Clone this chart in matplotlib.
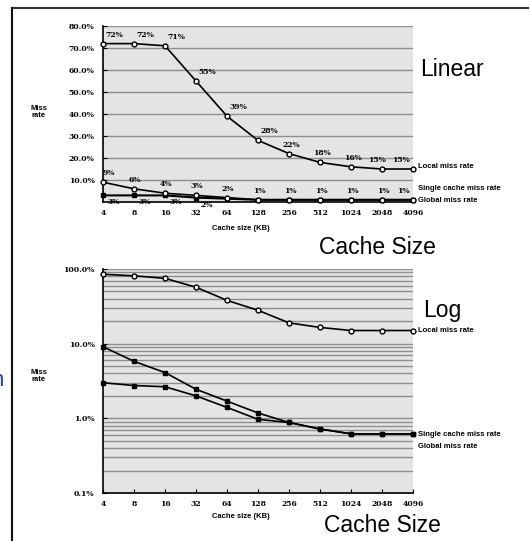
import matplotlib
matplotlib.use("Agg")
import matplotlib.pyplot as plt
from matplotlib.lines import Line2D

# cache sizes (KB)
sizes = ["4", "8", "16", "32", "64", "128", "256", "512", "1024", "2048", "4096"]

# linear chart values (%)
local_lin = [72, 72, 71, 55, 39, 28, 22, 18, 16, 15, 15]
single_lin = [9, 6, 4, 3, 2, 1, 1, 1, 1, 1, 1]
global_lin = [3, 3, 3, 2, 1.5, 1, 1, 1, 1, 1, 1]
global_lin_labels = [3, 3, 3, 2]

# log chart values (%)
local_log = [85, 81, 75, 57, 38, 28, 19, 16.5, 15, 15, 15]
single_log = [9.1, 5.8, 4.1, 2.45, 1.7, 1.18, 0.88, 0.72, 0.62, 0.62, 0.62]
global_log = [3.0, 2.75, 2.65, 2.0, 1.4, 0.97, 0.88, 0.72, 0.62, 0.62, 0.62]

W, H = 530, 541
BG = "#e4e4e4"
GRID = "#8e8e8e"
SMALL = dict(family="DejaVu Serif", fontsize=5.5, fontweight="bold")
LAB = dict(family="Liberation Sans", fontsize=5.5, fontweight="bold")
BIG = dict(family="Liberation Sans", fontsize=16.5)

# label placement along the x axis: (ha, dx in pixels)
local_place = [("left", 2)] * 6 + [("center", 2)] * 3 + [("right", 4), ("right", -3)]
single_place = [("left", 0)] + [("center", 1)] * 9 + [("right", -3)]


def fx(x):
    return x / W


def fy(y):
    return 1 - y / H


fig = plt.figure(figsize=(W / 100, H / 100), dpi=100)
fig.patch.set_facecolor("white")

# outer frame (top and left edges only)
fig.add_artist(Line2D([fx(12), fx(528)], [fy(8), fy(8)], color="#333333", lw=1.5))
fig.add_artist(Line2D([fx(12), fx(12)], [fy(8), fy(541)], color="#111111", lw=1.5))
fig.text(fx(4), fy(380), "n", color="#2040c0", ha="right", va="center",
         family="Liberation Sans", fontsize=16)

x = list(range(len(sizes)))

# ---------------- linear chart ----------------
ax1 = fig.add_axes([fx(103), fy(202), fx(413) - fx(103), (202 - 26) / H])
ax1.set_facecolor(BG)
ax1.set_xlim(0, 10)
ax1.set_ylim(0, 80)
ax1.set_yticks(range(10, 81, 10))
ax1.set_yticklabels([f"{v:.1f}%" for v in range(10, 81, 10)], **SMALL)
ax1.set_xticks(x)
ax1.set_xticklabels(sizes, **SMALL)
ax1.tick_params(axis="x", length=0, pad=5)
ax1.tick_params(axis="y", direction="in", length=3, pad=6)
ax1.yaxis.grid(True, color=GRID, lw=1)
ax1.set_axisbelow(True)
for s in ["top", "right"]:
    ax1.spines[s].set_visible(False)
ax1.spines["left"].set_linewidth(1.2)
ax1.spines["bottom"].set_linewidth(1.2)

ax1.plot(x, local_lin, color="black", lw=1.2, marker="o", ms=3.5,
         mfc="white", mec="black", mew=1, clip_on=False, zorder=4)
ax1.plot(x, single_lin, color="black", lw=1.2, marker="o", ms=3.5,
         mfc="white", mec="black", mew=1, clip_on=False, zorder=4)
ax1.plot(x, global_lin, color="black", lw=1.5, marker="s", ms=3.5,
         mfc="black", mec="black", clip_on=False, zorder=3)

for i, v in enumerate(local_lin):
    ha, dx = local_place[i]
    ax1.annotate(f"{v}%", (i, v), xytext=(dx, 5), textcoords="offset pixels",
                 ha=ha, va="bottom", **SMALL)
for i, v in enumerate(single_lin):
    ha, dx = single_place[i]
    ax1.annotate(f"{v}%", (i, v), xytext=(dx, 5), textcoords="offset pixels",
                 ha=ha, va="bottom", **SMALL)
for i, v in enumerate(global_lin_labels):
    ax1.annotate(f"{v}%", (i, global_lin[i]), xytext=(4, -3), textcoords="offset pixels",
                 ha="left", va="top", **SMALL)

fig.text(fx(39), fy(112), "Miss\nrate", ha="center", va="center", linespacing=1.0, **LAB)
fig.text(fx(241), fy(228), "Cache size (KB)", ha="center", va="center", **LAB)
fig.text(fx(418), fy(166), "Local miss rate", ha="left", va="center", **LAB)
fig.text(fx(418), fy(188), "Single cache miss rate", ha="left", va="center", **LAB)
fig.text(fx(418), fy(200), "Global miss rate", ha="left", va="center", **LAB)
fig.text(fx(420), fy(69), "Linear", ha="left", va="center", **BIG)
fig.text(fx(377), fy(248), "Cache Size", ha="center", va="center", **BIG)

# ---------------- log chart ----------------
ax2 = fig.add_axes([fx(103), fy(493), fx(413) - fx(103), (493 - 269) / H])
ax2.set_facecolor(BG)
ax2.set_yscale("log")
ax2.set_xlim(0, 10)
ax2.set_ylim(0.1, 100)
ax2.set_yticks([0.1, 1, 10, 100])
ax2.set_yticklabels(["0.1%", "1.0%", "10.0%", "100.0%"], **SMALL)
ax2.yaxis.set_minor_formatter(matplotlib.ticker.NullFormatter())
ax2.set_xticks(x)
ax2.set_xticklabels(sizes, **SMALL)
ax2.tick_params(axis="x", direction="in", length=3, pad=5)
ax2.tick_params(axis="y", which="major", direction="in", length=3, pad=6)
ax2.tick_params(axis="y", which="minor", length=0)
ax2.yaxis.grid(True, which="both", color=GRID, lw=1)
ax2.set_axisbelow(True)
for s in ["top", "right"]:
    ax2.spines[s].set_visible(False)
ax2.spines["left"].set_linewidth(1.2)
ax2.spines["bottom"].set_linewidth(1.2)

ax2.plot(x, local_log, color="black", lw=1.2, marker="o", ms=3.5,
         mfc="white", mec="black", mew=1, clip_on=False, zorder=4)
ax2.plot(x, single_log, color="black", lw=1.2, marker="s", ms=3.5,
         mfc="black", mec="black", clip_on=False, zorder=4)
ax2.plot(x, global_log, color="black", lw=1.2, marker="s", ms=3.5,
         mfc="black", mec="black", clip_on=False, zorder=3)

fig.text(fx(39), fy(376), "Miss\nrate", ha="center", va="center", linespacing=1.0, **LAB)
fig.text(fx(241), fy(517), "Cache size (KB)", ha="center", va="center", **LAB)
fig.text(fx(418), fy(331), "Local miss rate", ha="left", va="center", **LAB)
fig.text(fx(418), fy(434), "Single cache miss rate", ha="left", va="center", **LAB)
fig.text(fx(418), fy(446), "Global miss rate", ha="left", va="center", **LAB)
fig.text(fx(423), fy(310), "Log", ha="left", va="center", **BIG)
fig.text(fx(382), fy(525), "Cache Size", ha="center", va="center", **BIG)

fig.savefig("out.png", dpi=100)
